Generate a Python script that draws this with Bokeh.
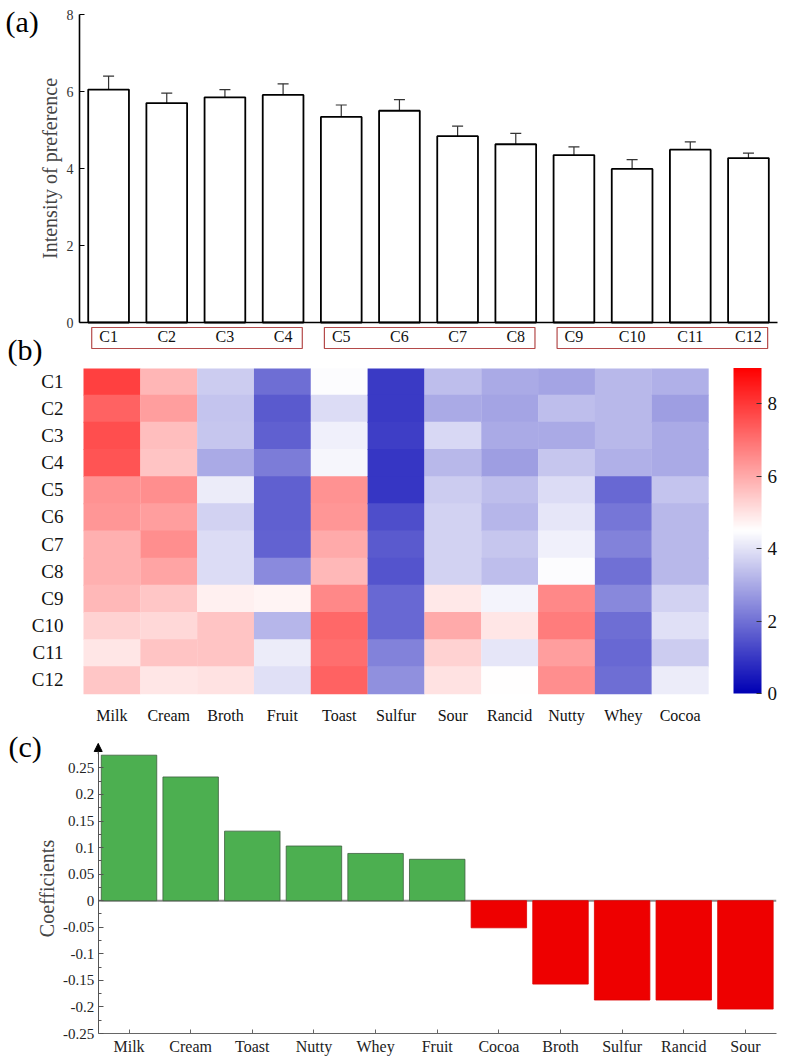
from bokeh.plotting import figure
from bokeh.layouts import column
from bokeh.models import (ColumnDataSource, Whisker, TeeHead, FixedTicker,
                          LinearColorMapper, ColorBar, Range1d, Arrow, NormalHead)
from bokeh.core.properties import value
from bokeh.transform import transform
from bokeh.embed import file_html
from bokeh.resources import INLINE

FONT = "Liberation Serif"

# ---------------- data ----------------
samples = ["C1", "C2", "C3", "C4", "C5", "C6", "C7", "C8", "C9", "C10", "C11", "C12"]
preference = [6.05, 5.70, 5.85, 5.91, 5.34, 5.50, 4.84, 4.63, 4.35, 3.99, 4.49, 4.27]
preference_err = [0.35, 0.26, 0.20, 0.29, 0.31, 0.29, 0.26, 0.28, 0.21, 0.24, 0.20, 0.13]
sample_groups = [["C1", "C2", "C3", "C4"], ["C5", "C6", "C7", "C8"], ["C9", "C10", "C11", "C12"]]
pref_ticks = [0, 2, 4, 6, 8]

attributes = ["Milk", "Cream", "Broth", "Fruit", "Toast", "Sulfur", "Sour", "Rancid", "Nutty", "Whey", "Cocoa"]
milk   = [7.85, 7.25, 7.60, 7.50, 6.40, 6.35, 5.90, 5.90, 5.75, 5.30, 4.95, 5.50]
cream  = [5.80, 6.20, 5.65, 5.55, 6.50, 6.20, 6.50, 6.10, 5.50, 5.20, 5.55, 4.95]
broth  = [3.60, 3.45, 3.50, 3.00, 4.15, 3.70, 3.90, 3.90, 4.75, 5.55, 5.55, 5.00]
fruit  = [1.95, 1.60, 1.70, 2.20, 1.70, 1.70, 1.75, 2.45, 4.70, 3.20, 4.15, 3.95]
toast  = [4.45, 3.90, 4.25, 4.35, 6.40, 6.35, 6.00, 5.75, 6.60, 7.15, 7.05, 7.25]
sulfur = [1.05, 1.05, 1.10, 0.95, 0.95, 1.40, 1.60, 1.50, 1.85, 1.85, 2.30, 2.55]
sour   = [3.35, 3.00, 3.80, 3.25, 3.60, 3.70, 3.70, 3.70, 4.90, 6.00, 5.30, 5.00]
rancid = [3.00, 2.90, 3.00, 2.80, 3.35, 3.20, 3.50, 3.35, 4.30, 4.95, 4.05, 4.50]
nutty  = [2.90, 3.35, 3.00, 3.50, 3.90, 4.05, 4.25, 4.45, 6.60, 6.80, 6.20, 6.50]
whey   = [3.25, 3.25, 3.25, 3.10, 1.85, 2.10, 2.30, 2.00, 2.40, 1.95, 1.85, 1.95]
cocoa  = [3.10, 2.80, 3.00, 3.00, 3.45, 3.25, 3.25, 3.25, 3.70, 3.95, 3.60, 4.15]
heat_columns = [milk, cream, broth, fruit, toast, sulfur, sour, rancid, nutty, whey, cocoa]
colorbar_ticks = [0, 2, 4, 6, 8]

coef_attributes = ["Milk", "Cream", "Toast", "Nutty", "Whey", "Fruit", "Cocoa", "Broth", "Sulfur", "Rancid", "Sour"]
coefficients = [0.274, 0.233, 0.131, 0.103, 0.089, 0.078, -0.051, -0.157, -0.187, -0.187, -0.204]
coef_ticks = [-0.25, -0.2, -0.15, -0.1, -0.05, 0, 0.05, 0.1, 0.15, 0.2, 0.25]

W = 787
# vertical split of the page between the three panels
TOP_A, TOP_B, TOP_C, BOTTOM = 0, 368, 728, 1059


def base_fig(height, xr, yr):
    p = figure(width=W, height=height, x_range=xr, y_range=yr, output_backend="svg",
               toolbar_location=None, min_border_left=0, min_border_right=0,
               min_border_top=0, min_border_bottom=0)
    p.outline_line_color = None
    p.grid.visible = False
    p.background_fill_color = "white"
    return p


def style_axis(ax, size, color="#222222"):
    ax.major_label_text_font = FONT
    ax.major_label_text_font_size = size
    ax.major_label_text_color = color
    ax.axis_label_text_font = FONT
    ax.axis_label_text_font_style = "normal"


def panel_tag(p, text, x, y):
    p.text(x=[x], y=[y], text=[text], text_font=value(FONT), text_font_size="30px",
           text_baseline="middle", text_align="left", text_color="black")


# ---------------- (a) bar chart ----------------
# frame covers the whole figure; axes sit at fixed locations inside it
AX0, AY0 = 79, 322            # pixel position of (0.5, 0)
PXA_X, PXA_Y = 58.17, 38.5
pa = base_fig(TOP_B - TOP_A,
              Range1d(0.5 - AX0 / PXA_X, 0.5 + (W - AX0) / PXA_X),
              Range1d((AY0 - TOP_B) / PXA_Y, (AY0 - TOP_A) / PXA_Y))

xs = [i + 1 for i in range(len(samples))]
src_a = ColumnDataSource(dict(x=xs, top=preference,
                              upper=[v + e for v, e in zip(preference, preference_err)],
                              lower=[v - e for v, e in zip(preference, preference_err)]))
pa.vbar(x="x", top="top", width=0.7, source=src_a, fill_color="white",
        line_color="black", line_width=1.8)
pa.add_layout(Whisker(base="x", upper="upper", lower="lower", source=src_a,
                      line_color="#333333", line_width=1.2,
                      upper_head=TeeHead(size=11, line_color="#333333", line_width=1.2),
                      lower_head=TeeHead(size=11, line_color="#333333", line_width=1.2)))

xa = pa.xaxis[0]
xa.fixed_location = 0
xa.bounds = (0.5, len(samples) + 0.5)
xa.ticker = FixedTicker(ticks=[], minor_ticks=[])
xa.major_label_text_color = None
xa.major_tick_line_color = None
xa.minor_tick_line_color = None
xa.axis_line_width = 1.6
xa.axis_line_color = "black"

ya = pa.yaxis[0]
ya.fixed_location = 0.5
ya.bounds = (0, 8)
ya.ticker = FixedTicker(ticks=pref_ticks, minor_ticks=[])
ya.major_tick_in = 5
ya.major_tick_out = 0
ya.minor_tick_line_color = None
ya.axis_line_width = 1.6
ya.major_tick_line_width = 1.2
style_axis(ya, "14px", "#333333")
ya.major_label_standoff = 6
ya.axis_label = "Intensity of preference"
ya.axis_label_text_font_size = "20px"
ya.axis_label_standoff = 3

# grouped sample boxes under the axis
pos = {s: i + 1 for i, s in enumerate(samples)}
pa.quad(left=[pos[g[0]] - 0.29 for g in sample_groups],
        right=[pos[g[-1]] + 0.33 for g in sample_groups],
        top=-0.13, bottom=-0.675, fill_color=None, line_color="#b44a4a", line_width=1.2)
pa.text(x=xs, y=-0.37, text=samples, text_align="center", text_baseline="middle",
        text_font=value(FONT), text_font_size="16px", text_color="#111111")

panel_tag(pa, "(a)", 0.5 - (AX0 - 5) / PXA_X, (AY0 - 21) / PXA_Y)
panel_tag(pa, "(b)", 0.5 - (AX0 - 7) / PXA_X, (AY0 - 349) / PXA_Y)

# ---------------- (b) heat map ----------------
def cmap_color(v):
    if v <= 4.5:
        t = v / 4.5
        r = g = int(round(255 * t))
        b = int(round(180 + 75 * t))
    else:
        t = (v - 4.5) / 4.5
        r = 255
        g = b = int(round(255 * (1 - t)))
    return "#%02x%02x%02x" % (r, g, b)


palette = [cmap_color(9 * i / 255) for i in range(256)]
mapper = LinearColorMapper(palette=palette, low=0, high=9)

BX0, BY0 = 83, 693            # pixel position of the heat map's bottom-left corner
CW, CH = 56.82, 27.17
pb = base_fig(TOP_C - TOP_B,
              Range1d(-BX0 / CW, (W - BX0) / CW),
              Range1d((BY0 - TOP_C) / CH, (BY0 - TOP_B) / CH))

n_rows = len(samples)
hx, hy, hv = [], [], []
for j, col in enumerate(heat_columns):
    for i, v in enumerate(col):
        hx.append(j + 0.5)
        hy.append(n_rows - i - 0.5)
        hv.append(v)
src_b = ColumnDataSource(dict(x=hx, y=hy, value=hv))
pb.rect(x="x", y="y", width=1, height=1, source=src_b, dilate=True,
        fill_color=transform("value", mapper), line_color=None)

xb = pb.xaxis[0]
xb.fixed_location = 0
xb.ticker = FixedTicker(ticks=[j + 0.5 for j in range(len(attributes))], minor_ticks=[])
xb.major_label_overrides = {j + 0.5: a for j, a in enumerate(attributes)}
yb = pb.yaxis[0]
yb.fixed_location = 0
yb.ticker = FixedTicker(ticks=[n_rows - i - 0.5 for i in range(n_rows)], minor_ticks=[])
yb.major_label_overrides = {n_rows - i - 0.5: s for i, s in enumerate(samples)}
for ax, size, so in ((xb, "16px", 7), (yb, "19px", 14)):
    ax.axis_line_color = None
    ax.major_tick_line_color = None
    ax.minor_tick_line_color = None
    style_axis(ax, size, "#111111")
    ax.major_label_standoff = so

cb = ColorBar(color_mapper=mapper, ticker=FixedTicker(ticks=colorbar_ticks, minor_ticks=[]),
              width=28, height=326, padding=0, margin=0, label_standoff=6,
              major_label_text_font=FONT, major_label_text_font_size="19px",
              major_label_text_color="#111111",
              major_tick_line_color="#333333", major_tick_in=5, major_tick_out=0,
              bar_line_color=None, border_line_color=None, background_fill_color=None,
              location=(733, TOP_C - BY0))
pb.add_layout(cb)

# ---------------- (c) coefficients ----------------
CX0, CY_TOP, CY_BOT = 97.7, 743, 1033   # y axis x-position, arrow tip, -0.25 line
YTOP, YBOT = 0.296, -0.25
PXC_X = 61.64
PXC_Y = (CY_BOT - CY_TOP) / (YTOP - YBOT)
pc = base_fig(BOTTOM - TOP_C,
              Range1d(-CX0 / PXC_X, (W - CX0) / PXC_X),
              Range1d(YBOT - (BOTTOM - CY_BOT) / PXC_Y, YTOP + (CY_TOP - TOP_C) / PXC_Y))

n_c = len(coef_attributes)
cx = [i + 0.5 for i in range(n_c)]
colors_c = ["#4caf50" if v >= 0 else "#ee0000" for v in coefficients]
lines_c = ["#3d5f3f" if v >= 0 else "#dd0000" for v in coefficients]
src_c = ColumnDataSource(dict(x=cx, top=coefficients, fill=colors_c, line=lines_c))
pc.segment(x0=[0], x1=[n_c], y0=[0], y1=[0], line_color="#8c8c8c", line_width=2)
pc.vbar(x="x", top="top", bottom=0, width=0.9, source=src_c, fill_color="fill",
        line_color="line", line_width=0.8)

yc = pc.yaxis[0]
yc.fixed_location = 0
yc.bounds = (YBOT, YTOP)
yc.ticker = FixedTicker(ticks=coef_ticks, minor_ticks=[t + 0.025 for t in coef_ticks[:-1]])
yc.major_label_overrides = {t: format(t, "g") for t in coef_ticks}
yc.major_tick_in = 5
yc.major_tick_out = 0
yc.minor_tick_in = 3
yc.minor_tick_out = 0
yc.axis_line_color = "#555555"
yc.major_tick_line_color = "#555555"
yc.minor_tick_line_color = "#555555"
style_axis(yc, "15px")
yc.major_label_standoff = 4
yc.axis_label = "Coefficients"
yc.axis_label_text_font_size = "20px"
yc.axis_label_standoff = 2

xc = pc.xaxis[0]
xc.fixed_location = YBOT
xc.bounds = (0, n_c)
xc.ticker = FixedTicker(ticks=cx, minor_ticks=[])
xc.major_label_overrides = {x: a for x, a in zip(cx, coef_attributes)}
xc.axis_line_color = "#666666"
xc.major_tick_line_color = "#666666"
xc.major_tick_in = 4
xc.major_tick_out = 0
style_axis(xc, "16px")
xc.major_label_standoff = 4

pc.add_layout(Arrow(end=NormalHead(size=8, fill_color="black", line_color="black"),
                    x_start=0, y_start=YTOP - 0.02, x_end=0, y_end=YTOP,
                    line_color="#555555", line_width=1))
panel_tag(pc, "(c)", -(CX0 - 8) / PXC_X, YTOP - (746 - CY_TOP) / PXC_Y)

layout = column(pa, pb, pc, spacing=0)
open("out.html", "w").write(file_html(layout, INLINE))
